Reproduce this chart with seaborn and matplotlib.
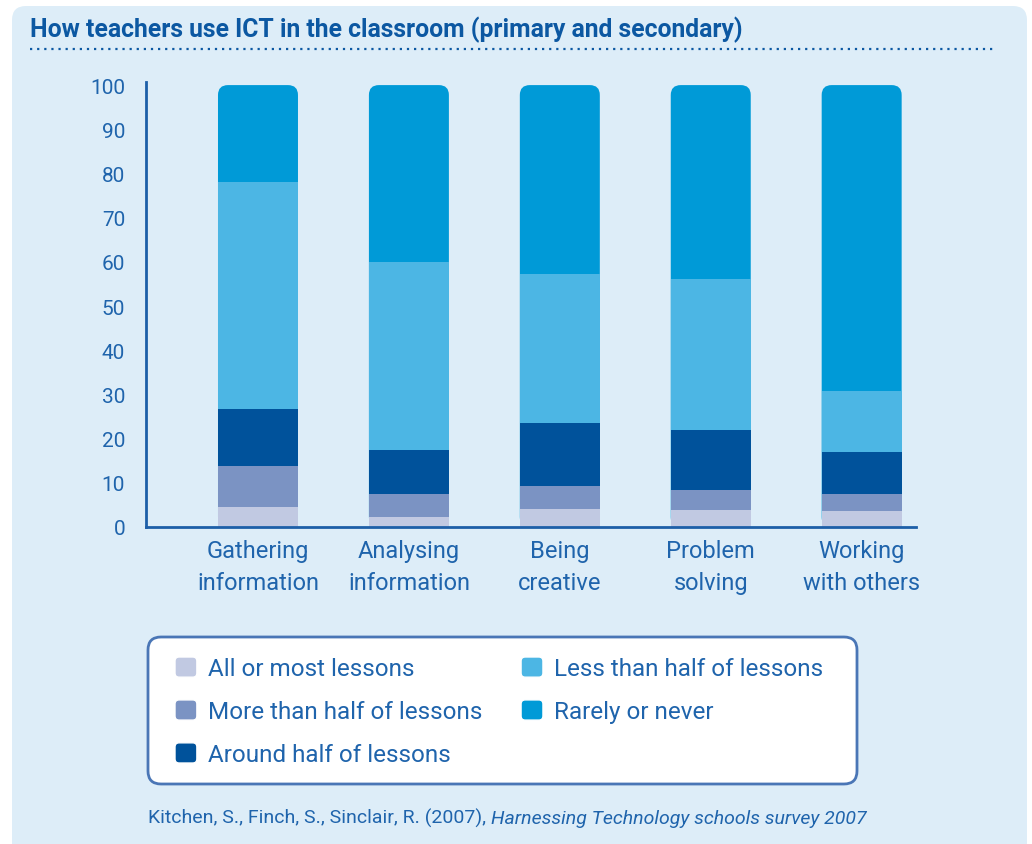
import matplotlib
matplotlib.use('Agg')
import matplotlib.pyplot as plt
from matplotlib.patches import FancyBboxPatch, Patch
from matplotlib.legend_handler import HandlerPatch
from matplotlib.lines import Line2D
import seaborn as sns
import numpy as np

# data (percent of teachers)
categories = ['Gathering\ninformation', 'Analysing\ninformation', 'Being\ncreative',
              'Problem\nsolving', 'Working\nwith others']
all_or_most = [4.5, 2.3, 4.1, 3.8, 3.6]
more_than_half = [9.3, 5.2, 5.2, 4.5, 3.8]
around_half = [12.9, 10.0, 14.3, 13.6, 9.5]
less_than_half = [51.4, 42.5, 33.7, 34.2, 13.8]
rarely_never = [21.9, 40.0, 42.7, 43.9, 69.3]

series_labels = ['All or most lessons', 'More than half of lessons', 'Around half of lessons',
                 'Less than half of lessons', 'Rarely or never']
series_values = [all_or_most, more_than_half, around_half, less_than_half, rarely_never]
series_colors = ['#c1c9e2', '#7b93c3', '#00529b', '#4cb6e4', '#009ad7']

TEXT = '#1f64ac'
DARK = '#0c58a2'
BG = '#ddedf8'

sns.set_theme(style='white')
plt.rcParams['font.family'] = ['Roboto', 'DejaVu Sans']

fig = plt.figure(figsize=(10.32, 8.45), dpi=100, facecolor='white')
W, H = 1032, 845

# light blue panel
panel = FancyBboxPatch((12 / 100, -0.3), (1027 - 12) / 100, (838 / 100) + 0.3,
                       boxstyle='round,pad=0,rounding_size=0.14',
                       transform=fig.dpi_scale_trans, fc=BG, ec='none', zorder=-5)
fig.add_artist(panel)

fig.text(30 / W, 1 - 30 / H, 'How teachers use ICT in the classroom (primary and secondary)',
         fontsize=17.8, fontweight='bold', color=DARK, va='center', ha='left')
fig.add_artist(Line2D([30 / W, 993 / W], [1 - 50 / H] * 2, ls=(0, (1, 2.2)), lw=1.6, color=DARK))

ax = fig.add_axes([146 / W, 1 - 528 / H, 770 / W, 445 / H])
ax.set_facecolor('none')

cum = np.cumsum(np.array(series_values), axis=0)

# draw from top layer down so each lower layer covers the one above
for i in range(len(series_labels) - 1, -1, -1):
    n_before = len(ax.patches)
    sns.barplot(x=categories, y=cum[i], color=series_colors[i], saturation=1, width=0.53,
                errorbar=None, linewidth=0, ax=ax)
    if i == len(series_labels) - 1:
        # round the top corners of the full bars
        for p in ax.patches[n_before:]:
            p.set_visible(False)
            ax.add_patch(FancyBboxPatch((p.get_x(), 0), p.get_width(), p.get_height(),
                                        boxstyle='round,pad=0,rounding_size=0.066',
                                        mutation_aspect=34, fc=series_colors[i], ec='none'))

ax.set_xlim(-0.742, 4.36)
ax.set_ylim(0, 100.7)
ax.set_yticks(range(0, 101, 10))
ax.set_xlabel('')
ax.set_ylabel('')
for s in ['top', 'right']:
    ax.spines[s].set_visible(False)
for s in ['left', 'bottom']:
    ax.spines[s].set_color('#1d5fa8')
    ax.spines[s].set_linewidth(2)
ax.tick_params(axis='y', length=0, pad=15, labelsize=15, labelcolor=TEXT)
ax.tick_params(axis='x', length=0, pad=9, labelsize=17, labelcolor=TEXT)
for lab in ax.get_xticklabels():
    lab.set_linespacing(1.45)

# legend box
fig.add_artist(FancyBboxPatch((148 / 100, (H - 785) / 100), (857 - 148) / 100, (785 - 638) / 100,
                              boxstyle='round,pad=0,rounding_size=0.13',
                              transform=fig.dpi_scale_trans, fc='white', ec='#4a76b6', lw=2, zorder=2))


def rounded_square(legend, orig_handle, xdescent, ydescent, width, height, fontsize):
    return FancyBboxPatch((-xdescent, -ydescent), width, height,
                          boxstyle='round,pad=0,rounding_size=3')


handles = [Patch(facecolor=c, label=l) for c, l in zip(series_colors, series_labels)]
leg = fig.legend(handles=handles, ncol=2, loc='upper left',
                 bbox_to_anchor=(175 / W, 1 - 658 / H), frameon=False,
                 fontsize=17.5, labelcolor=TEXT, borderpad=0, borderaxespad=0,
                 handlelength=0.9, handleheight=0.9, handletextpad=0.45,
                 labelspacing=0.8, columnspacing=1.6,
                 handler_map={Patch: HandlerPatch(patch_func=rounded_square)})

t1 = fig.text(148 / W, 1 - 818 / H, 'Kitchen, S., Finch, S., Sinclair, R. (2007), ',
              fontsize=14, color=TEXT, va='center', ha='left')
fig.add_artist(plt.Annotation('Harnessing Technology schools survey 2007', xy=(1, 0),
                              xycoords=t1, va='bottom', ha='left', fontsize=14,
                              style='italic', color=TEXT))

fig.savefig('out.png', dpi=100, facecolor='white')
